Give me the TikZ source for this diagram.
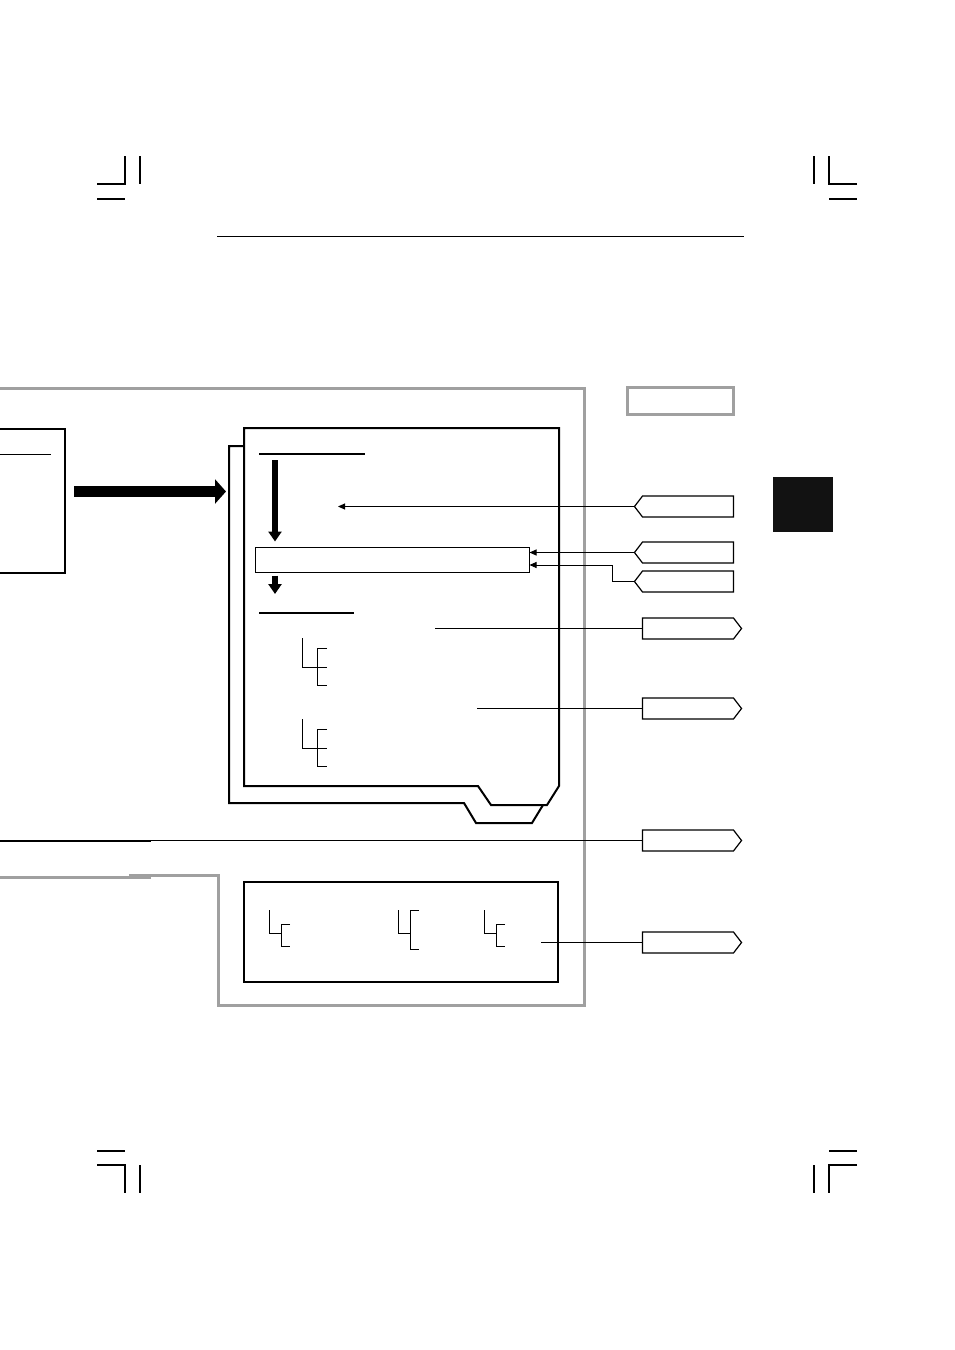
\documentclass[tikz,border=0pt]{standalone}
\usepackage{tikz}
\usetikzlibrary{arrows.meta,positioning,shapes.symbols}
\definecolor{framegray}{HTML}{A0A0A0}

\begin{document}
\begin{tikzpicture}[
        x=1pt, y=-1pt,
        tagL/.style={signal, signal to=west, draw, line width=1.2pt, fill=white,
          inner sep=0pt, minimum width=99pt, minimum height=21pt, signal pointer angle=105},
        tagR/.style={tagL, signal to=east},
        conn/.style={line width=1pt},
        connarrow/.style={conn, -{Triangle[length=7pt,width=6pt]}},
        frame/.style={draw=framegray, line width=3pt},
        page/.style={line width=2pt, line join=miter},
        flowarrow/.style={line width=6pt, -{Triangle[length=10pt,width=13pt]}},
        tick/.style={line width=1pt},
        crop/.style={line width=1.5pt}
      ]
      \useasboundingbox (0,0) rectangle (954,1350);
      \clip (0,0) rectangle (954,1350);

      % crop marks
      \draw[crop] (97,184) -- (125,184) -- (125,156);
      \draw[crop] (140,156) -- (140,184);
      \draw[crop] (97,199) -- (125,199);
      \draw[crop] (857,184) -- (829,184) -- (829,156);
      \draw[crop] (814,156) -- (814,184);
      \draw[crop] (829,199) -- (857,199);
      \draw[crop] (97,1165) -- (125,1165) -- (125,1193);
      \draw[crop] (140,1165) -- (140,1193);
      \draw[crop] (97,1151) -- (125,1151);
      \draw[crop] (857,1165) -- (829,1165) -- (829,1193);
      \draw[crop] (814,1165) -- (814,1193);
      \draw[crop] (829,1151) -- (857,1151);

      % header rule
      \draw[line width=1pt] (217,236) -- (744,236);

      % outer frame
      \draw[frame] (-5,388) -- (584,388) -- (584,1005) -- (218,1005) -- (218,875) -- (129,875);
      \draw[frame] (151,877) -- (-5,877);
      \node[frame, minimum width=106, minimum height=27, inner sep=0pt] (badge) at (680,400.5) {};
      \node[fill=black!93, minimum width=60, minimum height=55, inner sep=0pt] (tab) at (803,504.5) {};

      % source box
      \draw[page] (-5,429) -- (65,429) -- (65,573) -- (-5,573);
      \draw[conn] (-5,454) -- (51,454);
      \coordinate (src) at (74,491.5);
      \coordinate (dst) at (226,491.5);
      \draw[line width=11pt, -{Triangle[length=11pt,width=24pt]}] (src) -- (dst);

      % pages
      \draw[page] (244,446) -- (229,446) -- (229,803) -- (464,803) -- (476,823) -- (532,823) -- (543,805);
      \draw[page, fill=white] (244,428) -- (559,428) -- (559,786) -- (547,805) -- (491,805)
        -- (478,786) -- (244,786) -- cycle;

      \draw[line width=1.3pt] (259,454) -- (365,454);
      \draw[line width=1.3pt] (259,613) -- (354,613);
      \node[draw, line width=1pt, minimum width=274, minimum height=25, inner sep=0pt] (slot) at (392,559.5) {};
      \coordinate (h1) at (275,460);
      \coordinate (h2) at (275,594);
      \draw[flowarrow, shorten >=5pt] (h1) -- (h1 |- slot.north);
      \draw[flowarrow, shorten <=3pt] (h2 |- slot.south) -- (h2);

      \foreach \y in {638,719} {
        \draw[tick] (302,\y) |- (327,\y+29);
        \draw[tick] (327,\y+10) -| (317,\y+47) -- (327,\y+47);
      }

      % legend box
      \node[draw, line width=2pt, minimum width=314, minimum height=100, inner sep=0pt] (legend) at (401,932) {};
      \foreach \x/\t/\b in {269/924/946, 398/910/949, 484/924/946} {
        \draw[tick] (\x,910) |- (\x+12,933);
        \draw[tick] (\x+21,\t) -| (\x+12,\b) -- (\x+21,\b);
      }

      % tags
      \node[tagL] (t1) at (688,506.5) {};
      \node[tagL] (t2) at (688,552.5) {};
      \node[tagL] (t3) at (688,581.5) {};
      \node[tagR] (t4) at (688,628.5) {};
      \node[tagR] (t5) at (688,708.5) {};
      \node[tagR] (t6) at (688,840.5) {};
      \node[tagR] (t7) at (688,942.5) {};

      \coordinate (step1) at (338,506.5);
      \coordinate (note1) at (435,628.5);
      \coordinate (note2) at (477,708.5);
      \coordinate (note3) at (151,840.5);
      \coordinate (note4) at (541,942.5);

      \draw[connarrow] (t1.west) -- (step1);
      \draw[connarrow] (t2.west) -- (slot.east |- t2.west);
      \draw[connarrow] (t3.west) -- ++(-21,0) |- ([yshift=-5.5pt]slot.east);
      \draw[conn] (note1) -- (t4.west);
      \draw[conn] (note2) -- (t5.west);
      \draw[page] (-5,840.5) -- (note3);
      \draw[conn] (note3) -- (t6.west);
      \draw[conn] (note4) -- (t7.west);
    \end{tikzpicture}
\end{document}
